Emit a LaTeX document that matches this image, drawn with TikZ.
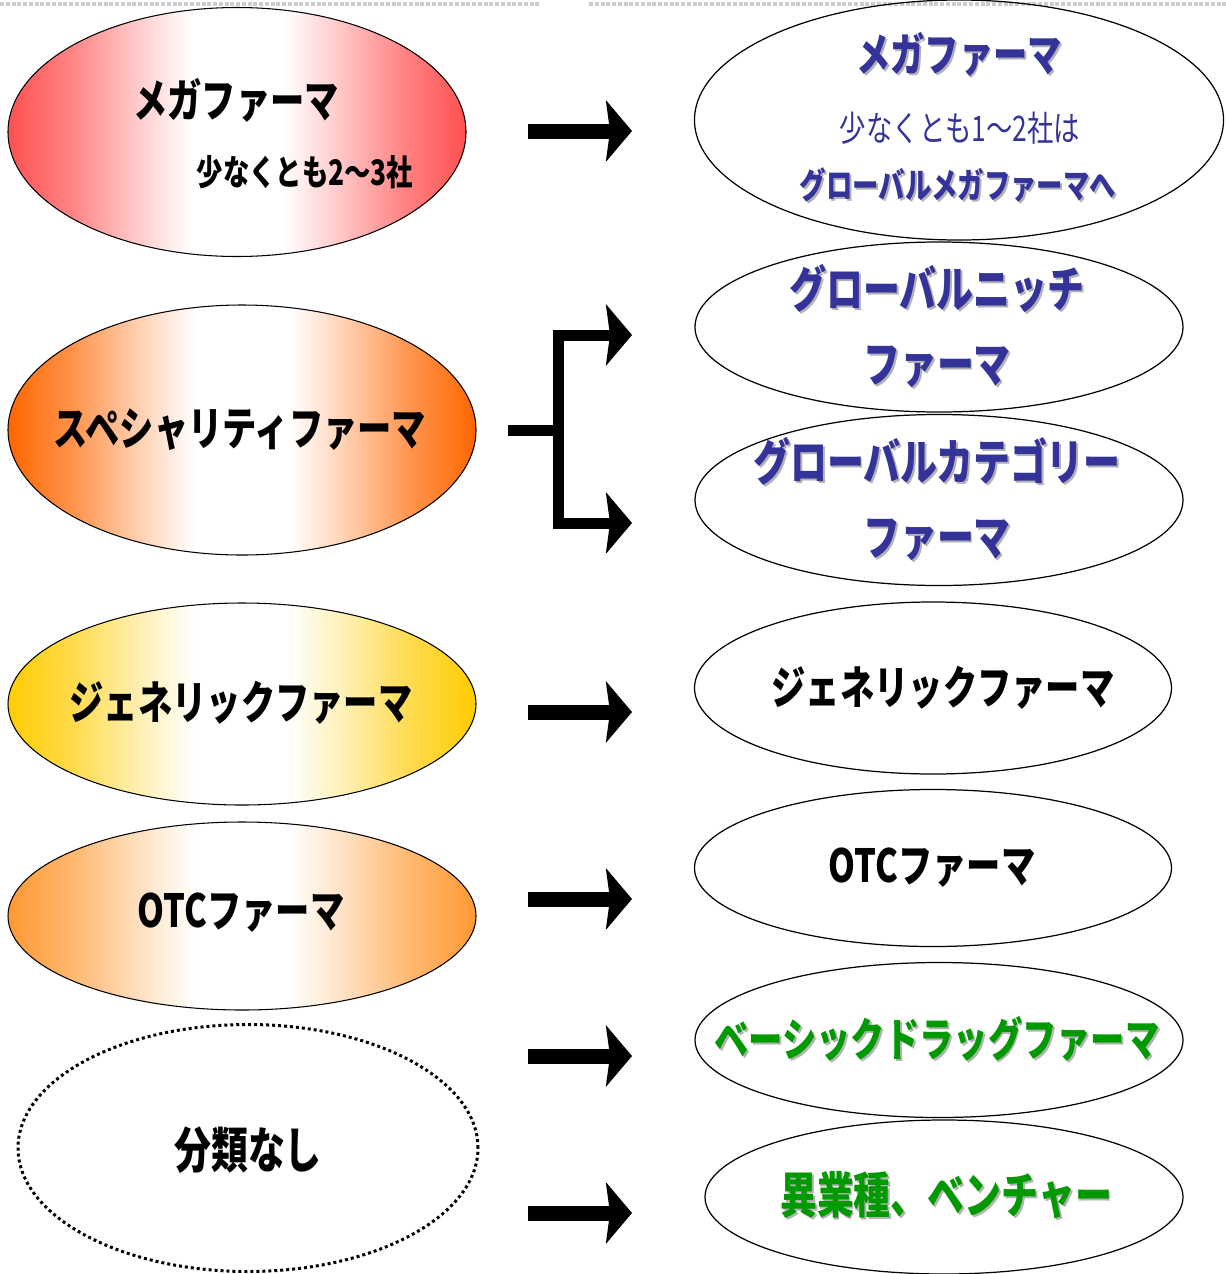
\documentclass[tikz,border=0pt]{standalone}
\usepackage{fontspec}
\usepackage{tikz}
\usetikzlibrary{shapes.geometric, arrows.meta}
\setmainfont{Noto Sans CJK JP}[FakeStretch=0.75]
\definecolor{pharmablue}{RGB}{51,51,153}
\definecolor{pharmagreen}{RGB}{0,153,0}
\definecolor{megared}{RGB}{255,80,80}
\definecolor{specorange}{RGB}{255,102,0}
\definecolor{genyellow}{RGB}{255,204,0}
\definecolor{otcorange}{RGB}{255,153,51}
\definecolor{shadowgray}{RGB}{178,178,178}
\colorlet{edgecolor}{megared}
\pgfdeclarehorizontalshading[edgecolor]{pharmashade}{100bp}{color(0bp)=(edgecolor); color(25bp)=(edgecolor); color(32bp)=(edgecolor!70!white); color(40bp)=(edgecolor!25!white); color(45bp)=(white); color(55bp)=(white); color(60bp)=(edgecolor!25!white); color(68bp)=(edgecolor!70!white); color(75bp)=(edgecolor); color(100bp)=(edgecolor)}
\newcommand{\labelfont}{\fontsize{26pt}{30pt}\selectfont\bfseries}
\newcommand{\largefont}{\fontsize{28pt}{43pt}\selectfont\bfseries}
\newcommand{\notefont}{\fontsize{20pt}{24pt}\selectfont}
\newcommand{\shadowed}[1]{\makebox[0pt][l]{\kern1.1pt\raisebox{-1.1pt}{\textcolor{shadowgray}{#1}}}#1}

\begin{document}
\begin{tikzpicture}[
    pharma/.style={draw, ellipse, inner sep=0pt, line width=0.6pt},
    shaded/.style={pharma, /utils/exec={\colorlet{edgecolor}{#1}}, shade, shading=pharmashade},
    unsorted/.style={draw, ellipse, inner sep=0pt, line width=1.7pt, dash pattern=on 1.7pt off 1.7pt},
    future/.style={draw, ellipse, inner sep=0pt, line width=0.7pt},
    bigarrow/.style={line width=0.3cm, -{Stealth[length=0.52cm, width=1.22cm, inset=0.08cm]}},
    forkline/.style={line width=0.22cm, line join=miter}
]
    \useasboundingbox (0,0) rectangle (24.52,-25.48);

    % Top rules
    \draw[gray!40, line width=0.08cm, densely dotted] (0,-0.08) -- (10.8,-0.08);
    \draw[gray!40, line width=0.08cm, densely dotted] (11.78,-0.08) -- (24.52,-0.08);

    % Today's groups
    \node[shaded=megared, minimum width=9.16cm, minimum height=4.98cm] (mega) at (4.74,-2.64) {};
    \node[font=\labelfont] (mega-name) at (4.72,-2.00) {メガファーマ};
    \node[font=\notefont\bfseries] (mega-note) at (6.10,-3.44) {少なくとも2～3社};

    \node[shaded=specorange, minimum width=9.36cm, minimum height=5.00cm] (spec) at (4.84,-8.60) {};
    \node[font=\labelfont] (spec-name) at (4.80,-8.60) {スペシャリティファーマ};
    \node[shaded=genyellow, minimum width=9.36cm, minimum height=4.04cm] (generic) at (4.84,-14.08) {};
    \node[font=\labelfont] (generic-name) at (4.82,-14.06) {ジェネリックファーマ};
    \node[shaded=otcorange, minimum width=9.36cm, minimum height=3.76cm] (otc) at (4.84,-18.32) {};
    \node[font=\labelfont] (otc-name) at (4.82,-18.26) {OTCファーマ};
    \node[unsorted, minimum width=9.20cm, minimum height=4.94cm] (none) at (4.96,-22.96) {};
    \node[font=\largefont] (none-name) at (4.96,-23.00) {分類なし};

    % Future groups
    \node[future, minimum width=10.58cm, minimum height=4.80cm] (megaf) at (19.18,-2.40) {};
    \node[font=\labelfont, text=pharmablue] (megaf-name) at (19.18,-1.10) {\shadowed{メガファーマ}};
    \node[font=\notefont, text=pharmablue] (megaf-note) at (19.20,-2.56) {少なくとも1～2社は};
    \node[font=\notefont\bfseries, text=pharmablue] (megaf-goal) at (19.16,-3.72) {\shadowed{グローバルメガファーマへ}};

    \node[future, minimum width=9.76cm, minimum height=3.40cm] (niche) at (18.78,-6.54) {};
    \node[font=\largefont, text=pharmablue, align=center] (niche-name) at (18.74,-6.54) {\shadowed{グローバルニッチ}\\\shadowed{ファーマ}};
    \node[future, minimum width=9.76cm, minimum height=3.42cm] (category) at (18.78,-10.00) {};
    \node[font=\largefont, text=pharmablue, align=center] (category-name) at (18.74,-10.00) {\shadowed{グローバルカテゴリー}\\\shadowed{ファーマ}};

    \node[future, minimum width=9.54cm, minimum height=3.44cm] (genericf) at (18.66,-13.76) {};
    \node[font=\labelfont] (genericf-name) at (18.86,-13.76) {ジェネリックファーマ};
    \node[future, minimum width=9.54cm, minimum height=3.14cm] (otcf) at (18.66,-17.36) {};
    \node[font=\labelfont] (otcf-name) at (18.64,-17.36) {OTCファーマ};
    \node[future, minimum width=9.76cm, minimum height=3.10cm] (basic) at (18.78,-20.80) {};
    \node[font=\labelfont, text=pharmagreen] (basic-name) at (18.74,-20.80) {\shadowed{ベーシックドラッグファーマ}};
    \node[future, minimum width=9.56cm, minimum height=3.08cm] (venture) at (18.88,-23.94) {};
    \node[font=\largefont, text=pharmagreen] (venture-name) at (18.92,-23.92) {\shadowed{異業種、ベンチャー}};

    % Arrows
    \foreach \row/\ypos in {mega/-2.62, generic/-14.24, otc/-17.98, basic/-21.12, venture/-24.26} {
        \coordinate (\row-from) at (10.56,\ypos);
        \coordinate (\row-to) at (12.64,\ypos);
        \draw[bigarrow] (\row-from) -- (\row-to);
    }

    % Fork for the specialty group
    \coordinate (spec-from) at (10.16,-8.60);
    \coordinate (spec-fork) at (11.16,-8.60);
    \coordinate (niche-to) at (12.64,-6.70);
    \coordinate (category-to) at (12.64,-10.46);
    \draw[forkline] (spec-from) -- (spec-fork);
    \draw[forkline, {Stealth[length=0.52cm, width=1.22cm, inset=0.08cm]}-{Stealth[length=0.52cm, width=1.22cm, inset=0.08cm]}] (niche-to) -| (spec-fork) |- (category-to);
\end{tikzpicture}
\end{document}
